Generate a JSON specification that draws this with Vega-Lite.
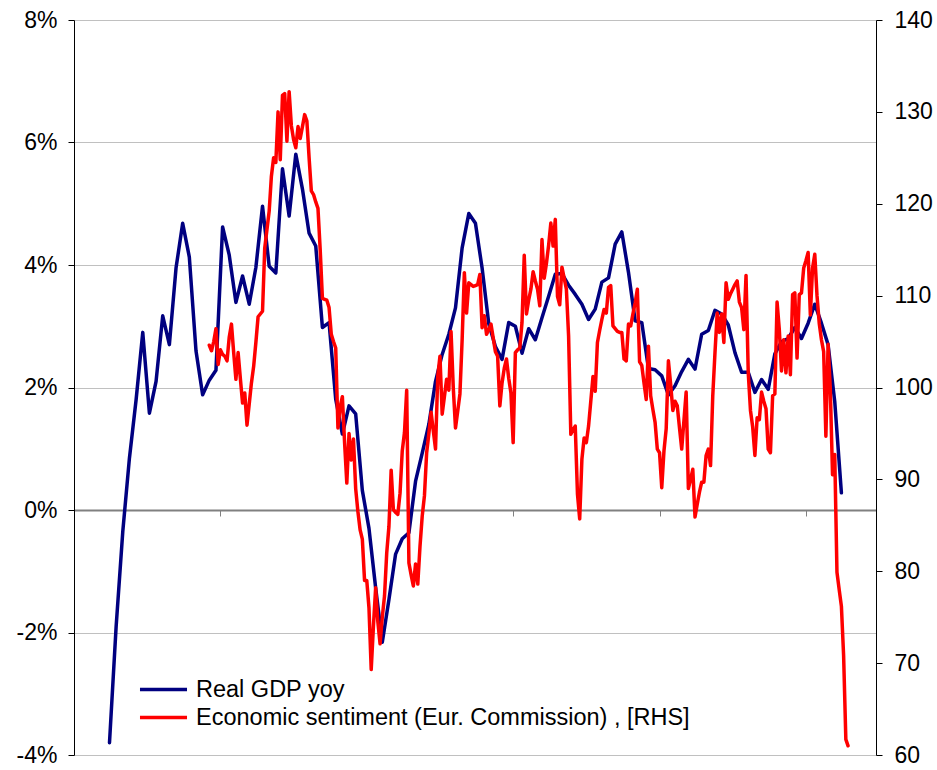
{
"$schema": "https://vega.github.io/schema/vega-lite/v6.json",
"width": 802, "height": 735,
"autosize": {"type": "none"},
"padding": {"left": 74, "top": 20, "right": 61, "bottom": 15},
"background": "white",
"config": {"view": {"stroke": null}, "font": "Liberation Sans"},
"datasets": {
"gdp": [
{"month":16,"gdp":-3.8},{"month":19,"gdp":-1.9},{"month":22,"gdp":-0.35},{"month":25,"gdp":0.85},{"month":28,"gdp":1.8},{"month":31,"gdp":2.9},{"month":34,"gdp":1.58},{"month":37,"gdp":2.1},{"month":40,"gdp":3.17},{"month":43,"gdp":2.7},
{"month":46,"gdp":3.95},{"month":49,"gdp":4.68},{"month":52,"gdp":4.13},{"month":55,"gdp":2.6},{"month":58,"gdp":1.88},{"month":61,"gdp":2.12},{"month":64,"gdp":2.28},{"month":67,"gdp":4.62},{"month":70,"gdp":4.16},{"month":73,"gdp":3.39},
{"month":76,"gdp":3.82},{"month":79,"gdp":3.36},{"month":82,"gdp":3.96},{"month":85,"gdp":4.96},{"month":88,"gdp":3.98},{"month":91,"gdp":3.87},{"month":94,"gdp":5.57},{"month":97,"gdp":4.8},{"month":100,"gdp":5.81},{"month":103,"gdp":5.24},
{"month":106,"gdp":4.52},{"month":109,"gdp":4.31},{"month":112,"gdp":2.98},{"month":115,"gdp":3.06},{"month":118,"gdp":1.81},{"month":121,"gdp":1.24},{"month":124,"gdp":1.7},{"month":127,"gdp":1.57},{"month":130,"gdp":0.32},{"month":133,"gdp":-0.3},
{"month":136,"gdp":-1.27},{"month":139,"gdp":-2.16},{"month":142,"gdp":-1.46},{"month":145,"gdp":-0.72},{"month":148,"gdp":-0.47},{"month":151,"gdp":-0.37},{"month":154,"gdp":0.47},{"month":157,"gdp":0.93},{"month":160,"gdp":1.4},{"month":163,"gdp":2.1},
{"month":166,"gdp":2.54},{"month":169,"gdp":2.87},{"month":172,"gdp":3.3},{"month":175,"gdp":4.28},{"month":178,"gdp":4.84},{"month":181,"gdp":4.68},{"month":184,"gdp":3.95},{"month":187,"gdp":3.04},{"month":190,"gdp":2.67},{"month":193,"gdp":2.46},
{"month":196,"gdp":3.06},{"month":199,"gdp":3.0},{"month":202,"gdp":2.56},{"month":205,"gdp":2.96},{"month":208,"gdp":2.78},{"month":211,"gdp":3.14},{"month":214,"gdp":3.49},{"month":217,"gdp":3.85},{"month":220,"gdp":3.86},{"month":223,"gdp":3.67},
{"month":226,"gdp":3.52},{"month":229,"gdp":3.36},{"month":232,"gdp":3.11},{"month":235,"gdp":3.28},{"month":238,"gdp":3.72},{"month":241,"gdp":3.79},{"month":244,"gdp":4.34},{"month":247,"gdp":4.54},{"month":250,"gdp":3.88},{"month":253,"gdp":3.09},
{"month":256,"gdp":3.06},{"month":259,"gdp":2.31},{"month":262,"gdp":2.29},{"month":265,"gdp":2.19},{"month":268,"gdp":1.88},{"month":271,"gdp":2.03},{"month":274,"gdp":2.26},{"month":277,"gdp":2.46},{"month":280,"gdp":2.3},{"month":283,"gdp":2.87},
{"month":286,"gdp":2.93},{"month":289,"gdp":3.26},{"month":292,"gdp":3.2},{"month":295,"gdp":3.02},{"month":298,"gdp":2.57},{"month":301,"gdp":2.25},{"month":304,"gdp":2.25},{"month":307,"gdp":1.92},{"month":310,"gdp":2.13},{"month":313,"gdp":1.97},
{"month":316,"gdp":2.55},{"month":319,"gdp":2.75},{"month":322,"gdp":2.8},{"month":325,"gdp":2.98},{"month":328,"gdp":2.8},{"month":331,"gdp":3.05},{"month":334,"gdp":3.36},{"month":337,"gdp":3.05},{"month":340,"gdp":2.7},{"month":343,"gdp":1.77},
{"month":346,"gdp":0.28}
],
"esi": [
{"month":61,"esi":104.6},{"month":62,"esi":104.0},{"month":63,"esi":105.0},{"month":64,"esi":106.4},{"month":65,"esi":102.5},{"month":66,"esi":104.1},{"month":67,"esi":103.6},{"month":68,"esi":103.4},{"month":69,"esi":102.9},{"month":70,"esi":105.5},
{"month":71,"esi":106.9},{"month":72,"esi":103.8},{"month":73,"esi":100.9},{"month":74,"esi":103.8},{"month":75,"esi":101.0},{"month":76,"esi":98.3},{"month":77,"esi":99.4},{"month":78,"esi":95.9},{"month":79,"esi":98.2},{"month":80,"esi":100.5},
{"month":81,"esi":102.3},{"month":82,"esi":104.9},{"month":83,"esi":107.7},{"month":84,"esi":108.0},{"month":85,"esi":108.3},{"month":86,"esi":115.2},{"month":87,"esi":117.2},{"month":88,"esi":119.2},{"month":89,"esi":123.0},{"month":90,"esi":125.0},
{"month":91,"esi":124.5},{"month":92,"esi":130.0},{"month":93,"esi":124.8},{"month":94,"esi":131.8},{"month":95,"esi":132.0},{"month":96,"esi":126.8},{"month":97,"esi":132.2},{"month":98,"esi":128.5},{"month":99,"esi":127.0},{"month":100,"esi":126.1},
{"month":101,"esi":128.4},{"month":102,"esi":127.1},{"month":103,"esi":128.4},{"month":104,"esi":129.7},{"month":105,"esi":129.0},{"month":106,"esi":125.0},{"month":107,"esi":121.4},{"month":108,"esi":121.0},{"month":109,"esi":120.2},{"month":110,"esi":119.5},
{"month":111,"esi":115.0},{"month":112,"esi":109.7},{"month":113,"esi":109.6},{"month":114,"esi":109.5},{"month":115,"esi":108.7},{"month":116,"esi":105.8},{"month":117,"esi":105.0},{"month":118,"esi":104.3},{"month":119,"esi":95.6},{"month":120,"esi":97.9},
{"month":121,"esi":99.0},{"month":122,"esi":94.0},{"month":123,"esi":89.6},{"month":124,"esi":95.0},{"month":125,"esi":92.1},{"month":126,"esi":94.4},{"month":127,"esi":89.0},{"month":128,"esi":86.5},{"month":129,"esi":84.5},{"month":130,"esi":83.5},
{"month":131,"esi":79.0},{"month":132,"esi":79.0},{"month":133,"esi":76.0},{"month":134,"esi":69.3},{"month":135,"esi":74.0},{"month":136,"esi":78.2},{"month":137,"esi":74.5},{"month":138,"esi":72.1},{"month":139,"esi":75.0},{"month":140,"esi":77.3},
{"month":141,"esi":82.0},{"month":142,"esi":84.9},{"month":143,"esi":91.0},{"month":144,"esi":86.7},{"month":145,"esi":86.4},{"month":146,"esi":86.2},{"month":147,"esi":88.5},{"month":148,"esi":93.1},{"month":149,"esi":95.1},{"month":150,"esi":99.7},
{"month":151,"esi":80.9},{"month":152,"esi":79.6},{"month":153,"esi":78.4},{"month":154,"esi":80.8},{"month":155,"esi":78.6},{"month":156,"esi":82.7},{"month":157,"esi":86.0},{"month":158,"esi":88.2},{"month":159,"esi":92.9},{"month":160,"esi":95.0},
{"month":161,"esi":97.3},{"month":162,"esi":95.3},{"month":163,"esi":93.3},{"month":164,"esi":101.2},{"month":165,"esi":103.4},{"month":166,"esi":97.1},{"month":167,"esi":99.0},{"month":168,"esi":100.9},{"month":169,"esi":99.7},{"month":170,"esi":106.1},
{"month":171,"esi":100.0},{"month":172,"esi":95.6},{"month":173,"esi":97.4},{"month":174,"esi":99.3},{"month":175,"esi":105.2},{"month":176,"esi":112.5},{"month":177,"esi":108.1},{"month":178,"esi":111.4},{"month":179,"esi":111.2},{"month":180,"esi":111.0},
{"month":181,"esi":111.1},{"month":182,"esi":111.2},{"month":183,"esi":112.3},{"month":184,"esi":106.5},{"month":185,"esi":107.8},{"month":186,"esi":105.8},{"month":187,"esi":106.3},{"month":188,"esi":106.9},{"month":189,"esi":105.4},{"month":190,"esi":103.9},
{"month":191,"esi":103.4},{"month":192,"esi":98.0},{"month":193,"esi":100.5},{"month":194,"esi":102.1},{"month":195,"esi":103.1},{"month":196,"esi":101.0},{"month":197,"esi":99.4},{"month":198,"esi":94.0},{"month":199,"esi":103.8},{"month":200,"esi":104.1},
{"month":201,"esi":104.3},{"month":202,"esi":107.1},{"month":203,"esi":114.4},{"month":204,"esi":108.0},{"month":205,"esi":109.5},{"month":206,"esi":110.7},{"month":207,"esi":112.6},{"month":208,"esi":111.6},{"month":209,"esi":110.7},{"month":210,"esi":108.9},
{"month":211,"esi":116.1},{"month":212,"esi":111.9},{"month":213,"esi":113.5},{"month":214,"esi":115.5},{"month":215,"esi":117.9},{"month":216,"esi":115.4},{"month":217,"esi":118.3},{"month":218,"esi":109.9},{"month":219,"esi":109.0},{"month":220,"esi":113.1},
{"month":221,"esi":111.9},{"month":222,"esi":110.7},{"month":223,"esi":105.6},{"month":224,"esi":94.9},{"month":225,"esi":95.4},{"month":226,"esi":95.8},{"month":227,"esi":88.4},{"month":228,"esi":85.7},{"month":229,"esi":92.2},{"month":230,"esi":94.5},
{"month":231,"esi":94.0},{"month":232,"esi":95.8},{"month":233,"esi":98.5},{"month":234,"esi":101.2},{"month":235,"esi":99.6},{"month":236,"esi":104.9},{"month":237,"esi":106.2},{"month":238,"esi":107.4},{"month":239,"esi":108.5},{"month":240,"esi":108.1},
{"month":241,"esi":110.9},{"month":242,"esi":111.1},{"month":243,"esi":106.7},{"month":244,"esi":106.4},{"month":245,"esi":106.1},{"month":246,"esi":106.0},{"month":247,"esi":106.0},{"month":248,"esi":103.1},{"month":249,"esi":102.9},{"month":250,"esi":106.9},
{"month":251,"esi":106.7},{"month":252,"esi":108.0},{"month":253,"esi":109.2},{"month":254,"esi":110.7},{"month":255,"esi":102.8},{"month":256,"esi":102.4},{"month":257,"esi":100.5},{"month":258,"esi":98.7},{"month":259,"esi":104.5},{"month":260,"esi":99.1},
{"month":261,"esi":97.6},{"month":262,"esi":96.2},{"month":263,"esi":93.3},{"month":264,"esi":92.9},{"month":265,"esi":89.1},{"month":266,"esi":93.1},{"month":267,"esi":95.5},{"month":268,"esi":102.9},{"month":269,"esi":100.4},{"month":270,"esi":97.5},
{"month":271,"esi":98.5},{"month":272,"esi":98.0},{"month":273,"esi":95.6},{"month":274,"esi":93.3},{"month":275,"esi":96.4},{"month":276,"esi":99.5},{"month":277,"esi":89.0},{"month":278,"esi":90.0},{"month":279,"esi":91.1},{"month":280,"esi":85.9},
{"month":281,"esi":87.3},{"month":282,"esi":88.6},{"month":283,"esi":89.7},{"month":284,"esi":89.7},{"month":285,"esi":92.6},{"month":286,"esi":93.3},{"month":287,"esi":91.5},{"month":288,"esi":99.1},{"month":289,"esi":103.8},{"month":290,"esi":108.1},
{"month":291,"esi":106.0},{"month":292,"esi":108.0},{"month":293,"esi":104.9},{"month":294,"esi":111.4},{"month":295,"esi":109.6},{"month":296,"esi":110.2},{"month":297,"esi":110.7},{"month":298,"esi":111.2},{"month":299,"esi":111.6},{"month":300,"esi":109.3},
{"month":301,"esi":108.7},{"month":302,"esi":106.3},{"month":303,"esi":112.2},{"month":304,"esi":101.6},{"month":305,"esi":97.5},{"month":306,"esi":95.7},{"month":307,"esi":92.6},{"month":308,"esi":96.7},{"month":309,"esi":96.5},{"month":310,"esi":99.5},
{"month":311,"esi":98.5},{"month":312,"esi":97.7},{"month":313,"esi":93.3},{"month":314,"esi":92.9},{"month":315,"esi":99.1},{"month":316,"esi":99.3},{"month":317,"esi":109.3},{"month":318,"esi":106.3},{"month":319,"esi":101.8},{"month":320,"esi":105.2},
{"month":321,"esi":101.6},{"month":322,"esi":105.6},{"month":323,"esi":101.4},{"month":324,"esi":110.1},{"month":325,"esi":110.3},{"month":326,"esi":103.2},{"month":327,"esi":110.1},{"month":328,"esi":110.3},{"month":329,"esi":113.0},{"month":330,"esi":113.8},
{"month":331,"esi":114.7},{"month":332,"esi":107.9},{"month":333,"esi":113.0},{"month":334,"esi":114.5},{"month":335,"esi":110.0},{"month":336,"esi":107.0},{"month":337,"esi":105.2},{"month":338,"esi":103.9},{"month":339,"esi":94.7},{"month":340,"esi":104.7},
{"month":341,"esi":99.8},{"month":342,"esi":90.5},{"month":343,"esi":92.7},{"month":344,"esi":79.9},{"month":345,"esi":78.0},{"month":346,"esi":76.2},{"month":347,"esi":70.8},{"month":348,"esi":61.7},{"month":349,"esi":61.0}
]
},
"layer": [
{
"data": {"name": "gdp"},
"mark": {"type": "line", "strokeWidth": 3.5, "strokeJoin": "round", "strokeCap": "round"},
"encoding": {
"x": {"field": "month", "type": "quantitative",
  "scale": {"domain": [0, 361.6], "nice": false, "zero": false},
  "axis": {"orient": "bottom", "offset": -245, "values": [0, 66, 132, 198, 264, 330], "labels": false, "ticks": true, "tickColor": "#808080", "tickSize": 6, "tickWidth": 1, "domain": true, "domainColor": "#808080", "domainWidth": 2, "grid": false, "title": null}},
"y": {"field": "gdp", "type": "quantitative",
  "scale": {"domain": [-4, 8], "nice": false, "zero": false},
  "axis": {"orient": "left", "values": [-4, -2, 0, 2, 4, 6, 8], "labelExpr": "datum.value + '%'", "grid": true, "gridColor": "#c0c0c0", "gridWidth": 1, "domainColor": "#000000", "domainWidth": 1, "tickColor": "#000000", "tickSize": 6, "labelFontSize": 23, "labelColor": "#000000", "labelPadding": 11, "labelFont": "Liberation Sans", "title": null}},
"color": {"datum": "Real GDP yoy", "type": "nominal",
  "scale": {"domain": ["Real GDP yoy", "Economic sentiment (Eur. Commission) , [RHS]"], "range": ["#000080", "#ff0000"]},
  "legend": {"title": null, "orient": "none", "legendX": 73, "legendY": 653, "symbolType": "M-1.6,0L1.6,0", "symbolStrokeWidth": 3.5, "symbolSize": 864, "labelFontSize": 23.5, "labelFont": "Liberation Sans", "labelColor": "#000000", "labelOffset": 16, "labelLimit": 800, "rowPadding": 0, "padding": 0}}
}
},
{
"data": {"name": "esi"},
"mark": {"type": "line", "strokeWidth": 3.5, "strokeJoin": "round", "strokeCap": "round"},
"encoding": {
"x": {"field": "month", "type": "quantitative"},
"y": {"field": "esi", "type": "quantitative",
  "scale": {"domain": [60, 140], "nice": false, "zero": false},
  "axis": {"orient": "right", "values": [60, 70, 80, 90, 100, 110, 120, 130, 140], "grid": false, "domainColor": "#000000", "domainWidth": 1, "tickColor": "#000000", "tickSize": 6, "labelFontSize": 23, "labelColor": "#000000", "labelPadding": 12, "labelFont": "Liberation Sans", "title": null}},
"color": {"datum": "Economic sentiment (Eur. Commission) , [RHS]", "type": "nominal"}
}
}
],
"resolve": {"scale": {"y": "independent"}}
}
